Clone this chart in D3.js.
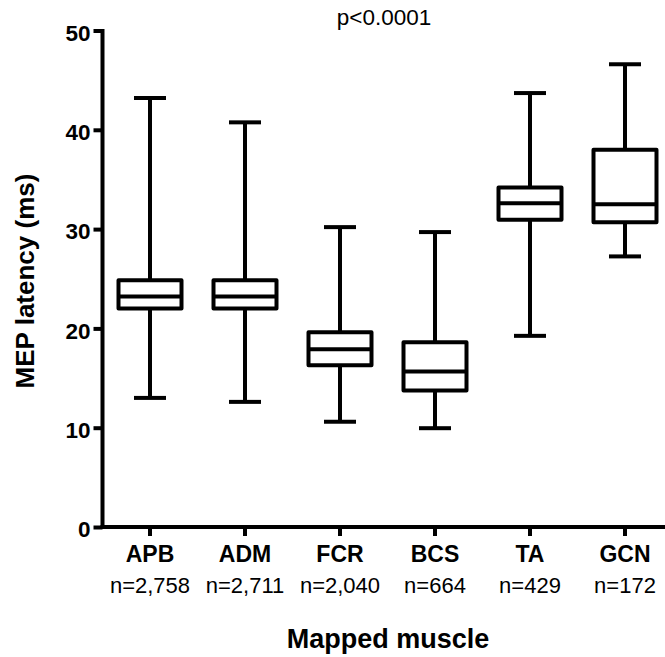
<!DOCTYPE html>
<html>
<head>
<meta charset="utf-8">
<script src="https://cdn.jsdelivr.net/npm/d3@7"></script>
<style>
  html, body { margin: 0; padding: 0; background: #fff; }
  svg { display: block; font-family: "Liberation Sans", Arial, sans-serif; }
</style>
</head>
<body>
<svg id="chart" width="665" height="657"></svg>
<script>
const categories = ["APB", "ADM", "FCR", "BCS", "TA", "GCN"];
const counts = ["n=2,758", "n=2,711", "n=2,040", "n=664", "n=429", "n=172"];
const whiskerMin = [13.0, 12.6, 10.6, 9.95, 19.25, 27.25];
const quartile1 = [22.0, 22.0, 16.3, 13.75, 30.95, 30.7];
const medians = [23.2, 23.2, 17.9, 15.65, 32.6, 32.5];
const quartile3 = [24.85, 24.85, 19.6, 18.6, 34.2, 38.0];
const whiskerMax = [43.2, 40.75, 30.2, 29.7, 43.7, 46.6];
const yTicks = [0, 10, 20, 30, 40, 50];
const title = "p<0.0001";
const yTitle = "MEP latency (ms)";
const xTitle = "Mapped muscle";

const data = categories.map((c, i) => ({
  cat: c, n: counts[i], min: whiskerMin[i], q1: quartile1[i],
  med: medians[i], q3: quartile3[i], max: whiskerMax[i]
}));

const svg = d3.select("#chart");
const x = d3.scaleBand().domain(categories).range([102.5, 672.5]).padding(0);
const y = d3.scaleLinear().domain([0, 50]).range([527, 30.5]);

const SW = 4;
const boxW = 63;
const capW = 32;

// Y axis
const yAxis = svg.append("g").attr("transform", "translate(102.5,0)")
  .call(d3.axisLeft(y).tickValues(yTicks).tickSize(9).tickPadding(3).tickSizeOuter(0));
yAxis.select(".domain").attr("stroke", "#000").attr("stroke-width", SW).attr("d", `M0,${y(50) - 1.5}V${y(0)}`);
yAxis.selectAll(".tick line").attr("stroke", "#000").attr("stroke-width", SW);
yAxis.selectAll(".tick text").attr("font-size", 22.5).attr("font-weight", "bold")
  .attr("fill", "#000").attr("dy", "0.43em")
  .attr("font-family", "'Liberation Sans', Arial, sans-serif");

// X axis
const xAxis = svg.append("g").attr("transform", "translate(0,527)")
  .call(d3.axisBottom(x).tickSize(9).tickSizeOuter(0).tickPadding(0));
xAxis.select(".domain").attr("stroke", "#000").attr("stroke-width", SW).attr("d", "M100.5,0H672.5");
xAxis.selectAll(".tick line").attr("stroke", "#000").attr("stroke-width", SW);
xAxis.selectAll(".tick text").remove();
xAxis.selectAll(".tick").append("text")
  .attr("y", 35).attr("text-anchor", "middle").attr("fill", "#000")
  .attr("font-size", 23).attr("font-weight", "bold")
  .attr("font-family", "'Liberation Sans', Arial, sans-serif")
  .text(d => d);
xAxis.selectAll(".tick").append("text")
  .attr("y", 66).attr("text-anchor", "middle").attr("fill", "#000")
  .attr("font-size", 22)
  .attr("font-family", "'Liberation Sans', Arial, sans-serif")
  .text((d, i) => counts[i]);

// Boxes
const g = svg.append("g").attr("stroke", "#000").attr("stroke-width", SW).attr("fill", "none");
const box = g.selectAll("g.box").data(data).join("g").attr("class", "box")
  .attr("transform", d => `translate(${x(d.cat) + x.bandwidth() / 2},0)`);

box.append("line").attr("x1", 0).attr("x2", 0).attr("y1", d => y(d.max)).attr("y2", d => y(d.q3));
box.append("line").attr("x1", 0).attr("x2", 0).attr("y1", d => y(d.q1)).attr("y2", d => y(d.min));
box.append("line").attr("x1", -capW / 2).attr("x2", capW / 2).attr("y1", d => y(d.max)).attr("y2", d => y(d.max));
box.append("line").attr("x1", -capW / 2).attr("x2", capW / 2).attr("y1", d => y(d.min)).attr("y2", d => y(d.min));
box.append("rect").attr("x", -boxW / 2).attr("width", boxW)
  .attr("y", d => y(d.q3)).attr("height", d => y(d.q1) - y(d.q3))
  .attr("fill", "#fff").attr("stroke-linejoin", "round");
box.append("line").attr("x1", -boxW / 2).attr("x2", boxW / 2).attr("y1", d => y(d.med)).attr("y2", d => y(d.med));

// Titles
svg.append("text").attr("x", 384).attr("y", 25).attr("text-anchor", "middle")
  .attr("font-size", 22.5).attr("fill", "#000").text(title);
svg.append("text").attr("transform", "translate(34,281) rotate(-90)")
  .attr("text-anchor", "middle").attr("font-size", 26).attr("font-weight", "bold")
  .attr("fill", "#000").text(yTitle);
svg.append("text").attr("x", 388).attr("y", 648).attr("text-anchor", "middle")
  .attr("font-size", 27).attr("font-weight", "bold").attr("fill", "#000").text(xTitle);
</script>
</body>
</html>
